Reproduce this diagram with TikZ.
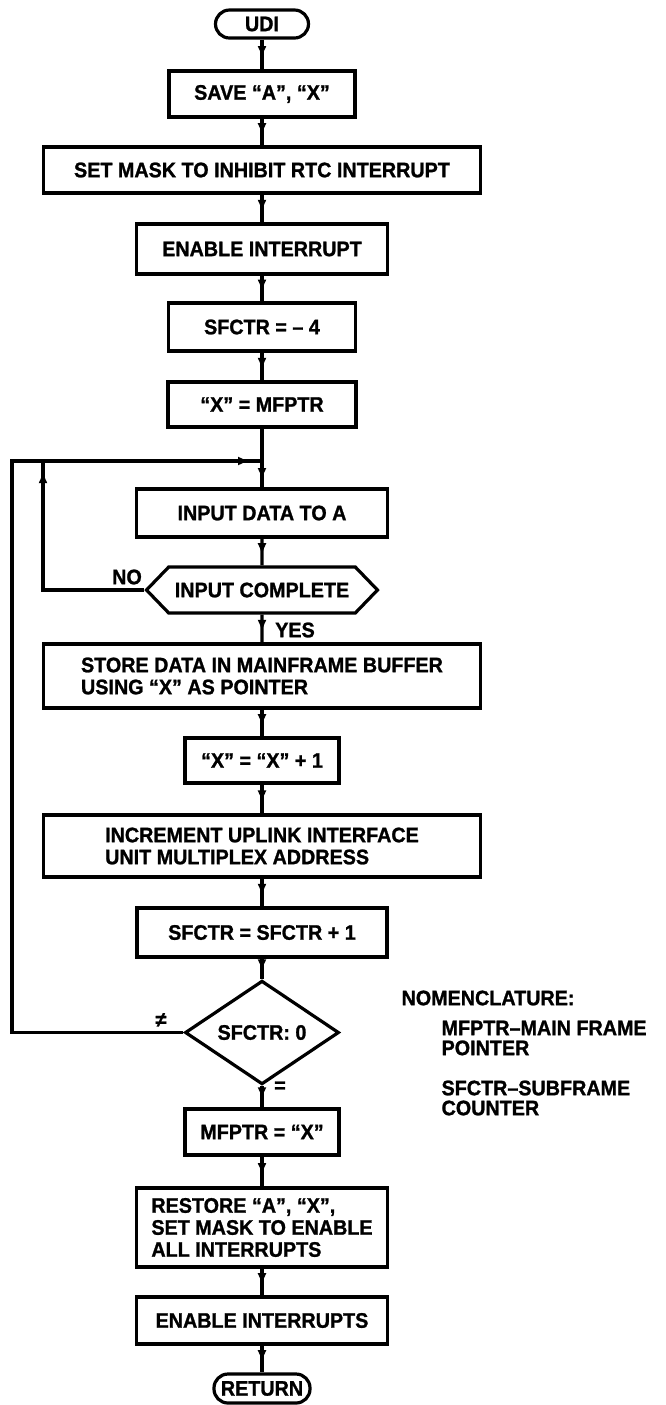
\documentclass[tikz,border=0pt]{standalone}
\usepackage{fontspec}
\setmainfont{Liberation Sans}[FakeStretch=0.94, BoldFeatures={FakeBold=1.2}]
\usetikzlibrary{shapes.geometric,shapes.symbols,decorations.markings,arrows.meta}

\begin{document}
\begin{tikzpicture}[x=0.5pt, y=-0.5pt, line width=1.6pt,
        font=\fontsize{10.5}{11}\selectfont\bfseries]
            \tikzstyle{box} = [draw, rectangle, inner sep=0pt, align=center]
            \tikzstyle{term} = [draw, rectangle, rounded corners=7pt, inner sep=0pt]
            \tikzstyle{hexa} = [draw, signal, signal to=east and west, signal pointer angle=92, inner sep=0pt]
            \tikzstyle{test} = [draw, diamond, inner sep=0pt]
            \tikzstyle{note} = [inner sep=0pt, anchor=west, align=left]
            \tikzstyle{flow} = [postaction={decorate}, decoration={markings,
                    mark=at position 0.62 with {\arrow{Latex[length=6pt, width=4.5pt]}}}]
            \tikzstyle{flowin} = [postaction={decorate}, decoration={markings,
                    mark=at position 0.72 with {\arrow{Latex[length=6pt, width=4.5pt]}}}]
            \tikzstyle{loopback} = [postaction={decorate}, decoration={markings,
                    mark=at position 0.49 with {\arrow{Latex[length=6pt, width=4.5pt]}},
                    mark=at position -6pt with {\arrow{Latex[length=6pt, width=4.5pt]}}}]

            \useasboundingbox (0,0) rectangle (665,1405);

            \node [term, minimum width=46.5pt, minimum height=14pt] (udi) at (262,24) {UDI};
            \node [box, minimum width=93pt, minimum height=23pt] (save) at (262,94) {SAVE “A”, “X”};
            \node [box, minimum width=218.5pt, minimum height=23pt] (mask) at (262,170) {SET MASK TO INHIBIT RTC INTERRUPT};
            \node [box, minimum width=125.5pt, minimum height=25pt] (enable) at (262,249) {ENABLE INTERRUPT};
            \node [box, minimum width=93.5pt, minimum height=24pt] (init) at (262,327) {SFCTR = – 4};
            \node [box, minimum width=94pt, minimum height=22.5pt] (load) at (262,404.5) {“X” = MFPTR};
            \coordinate (join) at (262,461);
            \node [box, minimum width=125.5pt, minimum height=24pt] (input) at (262,513) {INPUT DATA TO A};
            \node [hexa, minimum width=115.5pt, minimum height=23pt] (done) at (262,590) {INPUT COMPLETE};
            \node [box, align=left, minimum width=218.5pt, minimum height=32pt] (store) at (262,676)
                {STORE DATA IN MAINFRAME BUFFER\\USING “X” AS POINTER};
            \node [box, minimum width=77pt, minimum height=22.5pt] (incx) at (262,760.5) {“X” = “X” + 1};
            \node [box, align=left, minimum width=218.5pt, minimum height=31pt] (incaddr) at (262,846)
                {INCREMENT UPLINK INTERFACE\\UNIT MULTIPLEX ADDRESS};
            \node [box, minimum width=125pt, minimum height=24.5pt] (count) at (262,932.5) {SFCTR = SFCTR + 1};
            \node [test, minimum width=77pt, minimum height=44.5pt] (test) at (262,1032.5) {SFCTR: 0};
            \node [box, minimum width=77pt, minimum height=23pt] (keep) at (262,1132) {MFPTR = “X”};
            \node [box, align=left, minimum width=125.5pt, minimum height=39.5pt] (restore) at (262,1227.5)
                {RESTORE “A”, “X”,\\SET MASK TO ENABLE\\ALL INTERRUPTS};
            \node [box, minimum width=125.5pt, minimum height=23.5pt] (enall) at (262,1320.5) {ENABLE INTERRUPTS};
            \node [term, minimum width=48pt, minimum height=14.5pt] (ret) at (262,1388.5) {RETURN};

            \coordinate (nobend) at (43,590);
            \coordinate (notop) at (43,461);
            \coordinate (nebend) at (12,1032.5);
            \coordinate (netop) at (12,461);

            \draw [flow] (udi) -- (save);
            \draw [flow] (save) -- (mask);
            \draw [flow] (mask) -- (enable);
            \draw [flow] (enable) -- (init);
            \draw [flow] (init) -- (load);
            \draw (load) -- (join);
            \draw [flowin] (join) -- (input);
            \draw [flow] (input) -- (done);
            \draw [flow] (done) -- (store);
            \draw [flow] (store) -- (incx);
            \draw [flow] (incx) -- (incaddr);
            \draw [flow] (incaddr) -- (count);
            \draw [flow] (count) -- (test);
            \draw [flow] (test) -- (keep);
            \draw [flow] (keep) -- (restore);
            \draw [flow] (restore) -- (enall);
            \draw [flow] (enall) -- (ret);
            \draw [loopback] (done.west) -- (nobend) -- (notop) -- (join);
            \draw (test.west) -- (nebend) -- (netop) -- (notop);

            \node (no) at (127,577) {NO};
            \node (yes) at (295,630) {YES};
            \node (ne) at (161,1020) {≠};
            \node (eq) at (280,1087) {=};

            \node [note] (nomen) at (400,998) {NOMENCLATURE:};
            \node [note, font=\fontsize{10.5}{10}\selectfont\bfseries] (mfdef) at (440,1038) {MFPTR–MAIN FRAME\\POINTER};
            \node [note, font=\fontsize{10.5}{10}\selectfont\bfseries] (sfdef) at (440,1098) {SFCTR–SUBFRAME\\COUNTER};
\end{tikzpicture}
\end{document}
